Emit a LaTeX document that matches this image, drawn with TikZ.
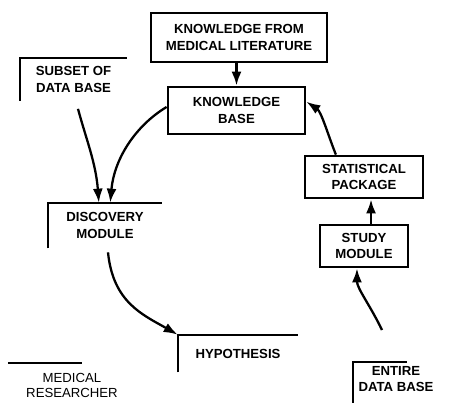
\documentclass[tikz,border=0pt]{standalone}
\usepackage{fontspec}
\setmainfont{Liberation Sans}
\usetikzlibrary{arrows.meta}

\begin{document}
\begin{tikzpicture}[x=0.02cm, y=-0.02cm,
		box/.style={draw, line width=1.6pt, align=center, inner sep=0pt, font=\bfseries\fontsize{7.5}{9.6}\selectfont},
		tag/.style={align=center, inner sep=0pt, font=\bfseries\fontsize{7.5}{9.6}\selectfont},
		rule/.style={line width=1.2pt},
		flow/.style={line width=1.3pt, -{Latex[length=2.8mm, width=2mm]}}]
		\useasboundingbox (0,0) rectangle (451,403);
		% boxes
		\node[box, minimum width=3.52cm, minimum height=0.98cm] (lit) at (239,37.5) {KNOWLEDGE FROM\\MEDICAL LITERATURE};
		\node[box, minimum width=2.74cm, minimum height=0.94cm] (kb) at (236.5,110.5) {KNOWLEDGE\\BASE};
		\node[box, minimum width=2.36cm, minimum height=0.84cm] (stat) at (364,177) {STATISTICAL\\PACKAGE};
		\node[box, minimum width=1.76cm, minimum height=0.84cm] (study) at (364,246) {STUDY\\MODULE};
		% open corners
		\node[tag, minimum width=2.14cm, minimum height=0.84cm] (subset) at (73.5,79.5) {SUBSET OF\\DATA BASE};
		\node[tag, minimum width=2.28cm, minimum height=0.9cm] (disc) at (105,225.5) {DISCOVERY\\MODULE};
		\node[tag, minimum width=2.4cm, minimum height=0.74cm] (hyp) at (238,353.5) {HYPOTHESIS};
		\node[tag] (entire) at (396,379) {ENTIRE\\DATA BASE};
		\node[align=center, inner sep=0pt, font=\fontsize{7.5}{8.5}\selectfont] (researcher) at (72,385) {MEDICAL\\RESEARCHER};
		\draw[rule] (subset.south west) |- (subset.north east);
		\draw[rule] (disc.south west) |- (disc.north east);
		\draw[rule] (hyp.south west) |- (hyp.north east);
		\draw[rule] (353,403) |- (407,362);
		\draw[rule] (8,363) -- (82,363);
		\coordinate (feed) at (382,330);
		% arrows
		\draw[flow] (kb.north |- lit.south) -- (kb.north);
		\draw[flow] ([shift={(4.5,8)}]subset.south) .. controls +(8,30) and +(-3,-40) .. ([xshift=-3.5]disc.north);
		\draw[flow] ([yshift=2]kb.west) .. controls +(-30,18) and +(4,-45) .. ([xshift=3]disc.north);
		\draw[flow] ([shift={(3,4)}]disc.south) .. controls +(5,50) and +(-35,-20) .. (hyp.north west);
		\draw[flow] (feed) .. controls +(-12,-25) and +(0,20) .. ([xshift=-4]study.south);
		\draw[flow] ([xshift=4]study.north) -- ([xshift=4]stat.south);
		\draw[flow] ([xshift=-16]stat.north) .. controls +(-8,-20) and +(15,10) .. ([yshift=5]kb.east);
\end{tikzpicture}
\end{document}
